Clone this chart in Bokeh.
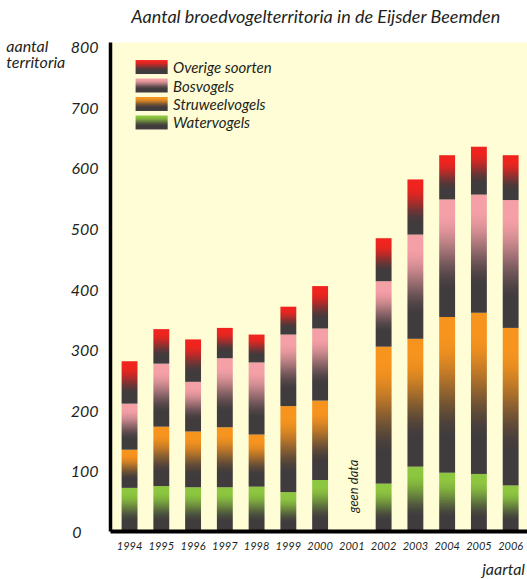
import numpy as np
from bokeh.plotting import figure
from bokeh.models import ColumnDataSource, FixedTicker, Label, Range1d
from bokeh.embed import file_html
from bokeh.resources import INLINE

# Broedvogelterritoria per jaar (2001: geen data)
years = [1994, 1995, 1996, 1997, 1998, 1999, 2000, 2001, 2002, 2003, 2004, 2005, 2006]
watervogels = [72, 75, 73, 73, 74, 65, 85, None, 79, 107, 97, 95, 76]
struweelvogels = [63, 98, 92, 99, 86, 142, 131, None, 226, 211, 257, 266, 260]
bosvogels = [76, 104, 82, 114, 119, 118, 119, None, 108, 172, 194, 195, 211]
overige_soorten = [70, 57, 70, 50, 46, 46, 70, None, 71, 91, 73, 79, 74]
y_ticks = [0, 100, 200, 300, 400, 500, 600, 700, 800]

series_names = ["Watervogels", "Struweelvogels", "Bosvogels", "Overige soorten"]
series_values = [watervogels, struweelvogels, bosvogels, overige_soorten]
series_colors = ["#8dc63f", "#f7941e", "#f4a0a6", "#f0241f"]
DARK = "#403b3d"

FONT = "Lato"
TEXT_COLOR = "#231f20"

BAR_WIDTH = 0.5
ROWS = 256


def hex_rgb(h):
    h = h.lstrip("#")
    return np.array([int(h[i:i + 2], 16) for i in (0, 2, 4)], dtype=float)


def gradient_image(top_hex):
    """Column image: top colour fading to dark towards the bottom."""
    depth = 1 - (np.arange(ROWS) + 0.5) / ROWS          # row 0 is the bottom
    u = np.clip((depth - 0.12) / (0.80 - 0.12), 0.0, 1.0)
    u = u * u * (3 - 2 * u)
    rgb = hex_rgb(top_hex)[None, :] * (1 - u[:, None]) + hex_rgb(DARK)[None, :] * u[:, None]
    img = np.empty((ROWS, 2), dtype=np.uint32)
    view = img.view(dtype=np.uint8).reshape((ROWS, 2, 4))
    view[:, :, :3] = np.round(rgb).astype(np.uint8)[:, None, :]
    view[:, :, 3] = 255
    return img


ramps = {c: gradient_image(c) for c in series_colors}

p = figure(
    width=527, height=579,
    x_range=Range1d(1993.40, 2006.53),
    y_range=Range1d(0, 807),
    output_backend="svg", toolbar_location=None,
    min_border_left=110, min_border_right=0,
    min_border_top=42, min_border_bottom=48,
)
p.background_fill_color = "#fffdd6"
p.border_fill_color = "white"
p.outline_line_color = None
p.xgrid.visible = False
p.ygrid.visible = False

# Stacked bars, each segment a vertical gradient
segs = {"image": [], "x": [], "y": [], "dw": [], "dh": []}
for i, yr in enumerate(years):
    base = 0.0
    for vals, col in zip(series_values, series_colors):
        v = vals[i]
        if v is None:
            continue
        segs["image"].append(ramps[col])
        segs["x"].append(yr - BAR_WIDTH / 2)
        segs["y"].append(base)
        segs["dw"].append(BAR_WIDTH)
        segs["dh"].append(v)
        base += v
p.image_rgba(image="image", x="x", y="y", dw="dw", dh="dh", source=ColumnDataSource(segs))

# Legend: gradient swatches plus italic labels
LEG_X0, LEG_X1 = 1994.19, 1995.20
LEG_TOP, LEG_ROW, LEG_H = 778.0, 30.5, 23.0
leg = {"image": [], "x": [], "y": [], "dw": [], "dh": []}
lab_y = []
for j, col in enumerate(series_colors[::-1]):
    top = LEG_TOP - j * LEG_ROW
    leg["image"].append(ramps[col])
    leg["x"].append(LEG_X0)
    leg["y"].append(top - LEG_H)
    leg["dw"].append(LEG_X1 - LEG_X0)
    leg["dh"].append(LEG_H)
    lab_y.append(top - LEG_H / 2)
p.image_rgba(image="image", x="x", y="y", dw="dw", dh="dh", source=ColumnDataSource(leg))
for name, yv in zip(series_names[::-1], lab_y):
    p.add_layout(Label(x=LEG_X1 + 0.17, y=yv, text=name, text_font=FONT,
                       text_font_style="italic", text_font_size="15px",
                       text_color=TEXT_COLOR, text_baseline="middle", text_align="left"))

# Axes
p.xaxis.ticker = FixedTicker(ticks=years)
p.xaxis.formatter.use_scientific = False
p.yaxis.ticker = FixedTicker(ticks=y_ticks)
# tick labels read left-aligned: pad the shorter numbers with figure spaces
p.yaxis.major_label_overrides = {t: str(t) + "\u2007" * (3 - len(str(t))) for t in y_ticks}
for ax, lw in ((p.xaxis, 4), (p.yaxis, 3.5)):
    ax.axis_line_width = lw
    ax.axis_line_color = "black"
    ax.major_tick_line_color = None
    ax.minor_tick_line_color = None
    ax.major_label_text_font = FONT
    ax.major_label_text_font_style = "italic"
    ax.major_label_text_color = TEXT_COLOR
p.xaxis.major_label_text_font_size = "11px"
p.xaxis.major_label_standoff = 4
p.yaxis.major_label_text_font_size = "16px"
p.yaxis.major_label_standoff = 6

# Texts outside the frame live in the side panels (placed in data units)
text_kw = dict(text_font=FONT, text_font_style="italic", text_color=TEXT_COLOR,
               text_baseline="middle")
p.add_layout(Label(x=1999.87, y=851, text="Aantal broedvogelterritoria in de Eijsder Beemden",
                   text_align="center", text_font_size="18px", **text_kw), "above")
p.add_layout(Label(x=1990.12, y=789, text="aantal\nterritoria", text_align="left",
                   text_font_size="16px", text_line_height=0.85, **text_kw), "left")
p.add_layout(Label(x=2006.45, y=-61, text="jaartal", text_align="right",
                   text_font_size="16px", **text_kw), "below")
p.add_layout(Label(x=2001.05, y=31, text="geen data", angle=np.pi / 2, text_font_size="13px",
                   text_font=FONT, text_font_style="italic", text_color=TEXT_COLOR,
                   text_align="left", text_baseline="middle"))

open("out.html", "w").write(file_html(p, INLINE))
